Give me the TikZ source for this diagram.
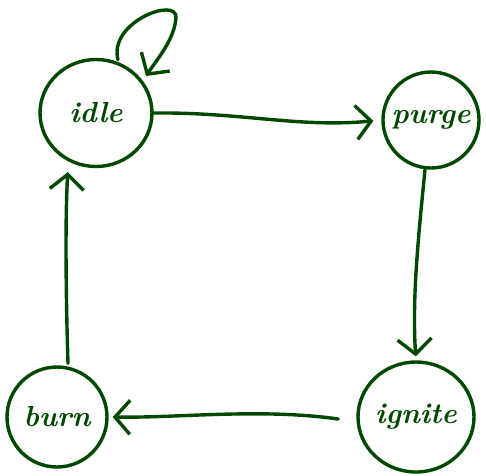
\documentclass[tikz,border=0pt]{standalone}
\usetikzlibrary{shapes.geometric,arrows.meta}
\definecolor{ink}{RGB}{0,72,0}
\newcommand{\lbl}[1]{\makebox[0pt]{#1}}
\begin{document}
\begin{tikzpicture}[x=1pt,y=-1pt,
  state/.style={draw=ink, line width=3.4pt, ellipse, inner sep=0pt,
    text=ink, font=\fontsize{29}{31}\selectfont\bfseries\itshape},
  edge/.style={draw=ink, line width=3.4pt, line cap=round,
    -{Straight Barb[length=15pt,width=34pt,line width=3.4pt]}}]
\useasboundingbox (0,0) rectangle (486,475);
\node[state, minimum width=112pt, minimum height=107pt] (idle) at (96,113) {\lbl{idle}};
\node[state, minimum width=96pt, minimum height=96pt] (purge) at (431,120) {\lbl{purge}};
\node[state, minimum width=116pt, minimum height=110pt] (ignite) at (416,417) {\lbl{ignite}};
\node[state, minimum width=100pt, minimum height=100pt] (burn) at (57,417) {\lbl{burn}};
\coordinate (loopend) at (146,76);
\draw[edge] (idle.north) ++(22,2) .. controls (108,22) and (178,-4) .. (176,18)
  .. controls (174,40) and (158,58) .. (loopend);
\draw[edge, shorten >=8pt] (idle.east) .. controls (240,112) and (300,128) .. (purge.west);
\draw[edge, shorten >=4pt] (purge.south) ++(-6,0) .. controls (418,240) and (412,300) .. (ignite.north);
\draw[edge, shorten >=4pt] (ignite.west) ++(-18,2) .. controls (260,408) and (180,418) .. (burn.east);
\draw[edge, shorten >=4pt] (burn.north) ++(11,-2) .. controls (66,300) and (65,220) .. ([xshift=-28pt]idle.south);
\end{tikzpicture}
\end{document}
